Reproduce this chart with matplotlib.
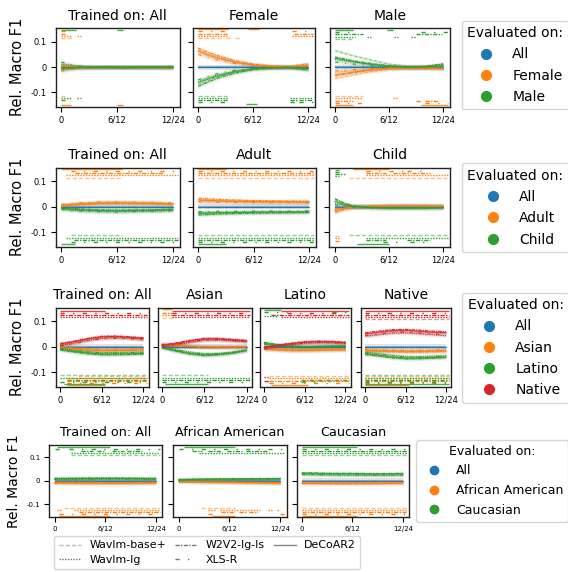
import numpy as np
import matplotlib
matplotlib.use("Agg")
import matplotlib.pyplot as plt
from matplotlib.lines import Line2D

# ---------------- data ----------------
X = [0, 1, 2, 4, 6, 8, 10, 12]
MODELS = ["Wavlm-base+", "Wavlm-lg", "W2V2-lg-ls", "XLS-R", "DeCoAR2"]
XTICKS = [0, 6, 12]
XTICKLABELS = ["0", "6/12", "12/24"]
YTICKS = [-0.1, 0, 0.1]
YTICKLABELS = ["-0.1", "0", "0.1"]
ALL_REL = [0, 0, 0, 0, 0, 0, 0, 0]

gender_groups = ["All", "Female", "Male"]
gender_titles = ["Trained on: All", "Female", "Male"]
age_groups = ["All", "Adult", "Child"]
age_titles = ["Trained on: All", "Adult", "Child"]
eth_groups = ["All", "Asian", "Latino", "Native"]
eth_titles = ["Trained on: All", "Asian", "Latino", "Native"]
race_groups = ["All", "African American", "Caucasian"]
race_titles = ["Trained on: All", "African American", "Caucasian"]

# ---- Row 1: gender ----
gen_all_F = [[0.012, 0.006, 0.002, 0.0, 0.0, 0.0, 0.0, 0.0],
             [-0.010, -0.006, -0.003, 0.0, 0.0, 0.0, -0.001, -0.002],
             [0.008, 0.004, 0.001, 0.0, 0.0, 0.001, 0.0, 0.0],
             [-0.016, -0.008, -0.003, 0.0, 0.0, 0.0, 0.0, 0.001],
             [0.004, 0.002, 0.001, 0.0, 0.0, 0.0, 0.0, 0.0]]
gen_all_M = [[-0.012, -0.006, -0.002, 0.0, 0.0, 0.0, 0.0, 0.0],
             [0.012, 0.007, 0.003, 0.0, 0.0, 0.0, 0.001, 0.003],
             [-0.008, -0.004, -0.001, 0.0, 0.0, -0.001, 0.0, 0.0],
             [0.020, 0.010, 0.004, 0.0, 0.0, 0.0, 0.0, -0.001],
             [-0.004, -0.002, -0.001, 0.0, 0.0, 0.0, 0.0, 0.0]]
gen_fem_F = [[0.070, 0.055, 0.042, 0.022, 0.010, 0.004, 0.001, 0.005],
             [0.060, 0.046, 0.035, 0.018, 0.008, 0.003, 0.002, 0.010],
             [0.075, 0.060, 0.047, 0.026, 0.012, 0.005, 0.003, 0.014],
             [0.050, 0.038, 0.028, 0.014, 0.006, 0.002, 0.000, 0.003],
             [0.064, 0.050, 0.038, 0.020, 0.008, 0.002, 0.001, 0.007]]
gen_fem_M = [[-0.070, -0.055, -0.040, -0.020, -0.008, -0.003, 0.000, -0.005],
             [-0.056, -0.043, -0.032, -0.016, -0.006, -0.002, -0.002, -0.010],
             [-0.076, -0.060, -0.045, -0.024, -0.010, -0.004, -0.003, -0.013],
             [-0.050, -0.037, -0.026, -0.012, -0.005, -0.002, 0.000, -0.003],
             [-0.062, -0.048, -0.036, -0.018, -0.007, -0.002, -0.001, -0.006]]
gen_mal_F = [[-0.045, -0.038, -0.030, -0.018, -0.008, -0.004, -0.003, -0.004],
             [-0.020, -0.017, -0.015, -0.010, -0.004, -0.003, -0.003, -0.006],
             [-0.035, -0.029, -0.022, -0.012, -0.005, -0.003, -0.004, -0.008],
             [-0.015, -0.013, -0.010, -0.006, -0.003, -0.002, -0.002, -0.003],
             [-0.030, -0.025, -0.020, -0.010, -0.004, -0.003, -0.003, -0.005]]
gen_mal_M = [[0.065, 0.055, 0.045, 0.028, 0.012, 0.004, 0.002, 0.006],
             [0.030, 0.025, 0.020, 0.012, 0.005, 0.001, 0.003, 0.011],
             [0.040, 0.033, 0.025, 0.014, 0.005, 0.001, 0.003, 0.013],
             [0.020, 0.016, 0.012, 0.006, 0.002, 0.000, 0.000, 0.004],
             [0.035, 0.029, 0.022, 0.010, 0.003, 0.000, 0.001, 0.007]]

# significance bars: (group, model, side, x_start, x_end)
gen_all_sig = [(2, 4, 1, 0, 1.6), (2, 4, 1, 6, 6.6), (1, 3, 1, 0, 0.4), (1, 2, 1, 0, 0.4),
               (1, 1, 1, 0, 1.0), (1, 1, 1, 1.7, 2.1), (1, 0, 1, 0, 1.1),
               (1, 0, -1, 0, 0.4), (2, 1, -1, 0, 1.0), (2, 1, -1, 1.7, 2.1), (2, 2, -1, 0, 0.4),
               (1, 4, -1, 0, 1.0), (1, 4, -1, 6, 6.6)]
gen_fem_sig = [(1, 4, 1, 0, 3.2), (1, 4, 1, 5.4, 6.6), (1, 3, 1, 0, 3.2), (1, 3, 1, 10.2, 12.5),
               (1, 2, 1, 0, 3.2), (1, 2, 1, 10.5, 12.5), (1, 1, 1, 0, 3.2), (1, 1, 1, 10.2, 12.5),
               (1, 0, 1, 0, 2.5), (1, 0, 1, 3, 3.6), (1, 0, 1, 4, 4.5),
               (2, 0, -1, 0, 3.2), (2, 1, -1, 0, 3.2), (2, 1, -1, 10, 10.8), (2, 1, -1, 11, 12.5),
               (2, 2, -1, 0, 3.2), (2, 2, -1, 10, 10.8), (2, 2, -1, 11, 12.5),
               (2, 3, -1, 0, 3.2), (2, 3, -1, 10, 10.8), (2, 3, -1, 11, 12.5), (2, 4, -1, 5.2, 6.4)]
gen_mal_sig = [(2, 4, 1, 0, 2), (2, 4, 1, 5.8, 6.4), (2, 3, 1, 0, 2), (2, 3, 1, 9.5, 12.5),
               (2, 2, 1, 0, 3.1), (2, 2, 1, 9, 11.9), (2, 1, 1, 0, 2.2), (2, 1, 1, 3.5, 4),
               (2, 1, 1, 6.5, 7), (2, 1, 1, 8.4, 9), (2, 0, 1, 0, 2),
               (1, 0, -1, 0, 3.1), (1, 1, -1, 0, 3.1), (1, 1, -1, 6.4, 7), (1, 2, -1, 0, 2),
               (1, 2, -1, 9, 9.4), (1, 2, -1, 10, 11.5), (1, 3, -1, 0, 3.1), (1, 3, -1, 10, 12.5),
               (1, 4, -1, 0, 2), (1, 4, -1, 9.5, 12.5)]

# ---- Row 2: age ----
age_all_A = [[0.004, 0.008, 0.011, 0.014, 0.015, 0.014, 0.013, 0.010],
             [0.008, 0.012, 0.015, 0.018, 0.019, 0.018, 0.017, 0.014],
             [0.002, 0.006, 0.009, 0.012, 0.013, 0.012, 0.012, 0.009],
             [0.010, 0.014, 0.017, 0.020, 0.020, 0.019, 0.018, 0.016],
             [0.006, 0.009, 0.012, 0.015, 0.016, 0.015, 0.014, 0.012]]
age_all_C = [[-0.004, -0.008, -0.010, -0.013, -0.014, -0.013, -0.012, -0.009],
             [-0.008, -0.012, -0.014, -0.017, -0.018, -0.017, -0.016, -0.013],
             [-0.002, -0.005, -0.008, -0.011, -0.012, -0.011, -0.011, -0.008],
             [-0.010, -0.014, -0.016, -0.019, -0.020, -0.018, -0.017, -0.015],
             [-0.006, -0.009, -0.011, -0.014, -0.015, -0.014, -0.013, -0.011]]
age_adu_A = [[0.030, 0.028, 0.026, 0.024, 0.022, 0.021, 0.021, 0.020],
             [0.024, 0.023, 0.022, 0.021, 0.020, 0.020, 0.019, 0.019],
             [0.034, 0.032, 0.030, 0.027, 0.025, 0.024, 0.023, 0.022],
             [0.020, 0.019, 0.018, 0.017, 0.017, 0.016, 0.016, 0.016],
             [0.027, 0.026, 0.024, 0.022, 0.021, 0.020, 0.020, 0.019]]
age_adu_C = [[-0.028, -0.027, -0.025, -0.023, -0.022, -0.021, -0.021, -0.020],
             [-0.022, -0.021, -0.021, -0.020, -0.019, -0.019, -0.019, -0.018],
             [-0.032, -0.030, -0.028, -0.026, -0.025, -0.024, -0.023, -0.022],
             [-0.018, -0.018, -0.017, -0.017, -0.016, -0.016, -0.016, -0.015],
             [-0.025, -0.024, -0.023, -0.022, -0.021, -0.020, -0.020, -0.019]]
age_chi_A = [[-0.018, -0.008, -0.002, 0.003, 0.005, 0.005, 0.005, 0.004],
             [-0.010, -0.004, 0.000, 0.004, 0.006, 0.006, 0.005, 0.005],
             [-0.022, -0.010, -0.003, 0.002, 0.004, 0.005, 0.004, 0.003],
             [-0.006, -0.002, 0.001, 0.004, 0.006, 0.006, 0.006, 0.004],
             [-0.014, -0.006, -0.001, 0.003, 0.005, 0.005, 0.005, 0.004]]
age_chi_C = [[0.028, 0.014, 0.004, -0.002, -0.004, -0.004, -0.004, -0.003],
             [0.015, 0.007, 0.001, -0.003, -0.005, -0.005, -0.004, -0.004],
             [0.032, 0.016, 0.005, -0.001, -0.003, -0.004, -0.003, -0.002],
             [0.008, 0.003, -0.001, -0.003, -0.005, -0.005, -0.005, -0.003],
             [0.022, 0.010, 0.002, -0.002, -0.004, -0.004, -0.004, -0.003]]

age_all_sig = [(1, 4, 1, 0, 6.5), (1, 3, 1, 1, 12.5), (1, 2, 1, 1.5, 11), (1, 1, 1, 0.5, 12.5),
               (1, 0, 1, 0.5, 6.5),
               (2, 0, -1, 1, 6.5), (2, 1, -1, 0.5, 12.5), (2, 2, -1, 1.4, 12.5), (2, 3, -1, 1, 12.5),
               (2, 4, -1, 0, 1.5)]
age_adu_sig = [(1, 4, 1, 0, 3), (1, 3, 1, 0, 12.5), (1, 2, 1, 0, 12.5), (1, 1, 1, 0, 12.5),
               (1, 0, 1, 0, 12.5),
               (2, 0, -1, 0, 12.5), (2, 1, -1, 0, 12.5), (2, 2, -1, 0, 12.5), (2, 3, -1, 0, 12.5),
               (2, 4, -1, 0, 3)]
age_chi_sig = [(2, 4, 1, 0, 0.5), (2, 3, 1, 0, 0.5), (2, 2, 1, 0, 1.1), (2, 1, 1, 0, 0.5),
               (1, 4, 1, 2, 6), (1, 3, 1, 3.5, 5), (1, 3, 1, 6, 7.5), (1, 3, 1, 8, 9.5),
               (1, 2, 1, 3.5, 5.7), (1, 2, 1, 6.4, 8.3), (1, 2, 1, 8.5, 10.5),
               (1, 1, 1, 3.5, 12.5), (1, 0, 1, 1.6, 12.5),
               (1, 0, -1, 0, 0.4), (1, 1, -1, 0, 0.4), (1, 2, -1, 0, 0.4),
               (2, 0, -1, 1.6, 12.5), (2, 1, -1, 3.5, 12.5), (2, 2, -1, 3.5, 5.7), (2, 2, -1, 8, 10.5),
               (2, 3, -1, 5.3, 7.2), (2, 3, -1, 8.3, 10.5), (2, 4, -1, 2.4, 6)]

# ---- Row 3: ethnicity ----
eth_all_As = [[0.000, -0.003, -0.006, -0.010, -0.012, -0.012, -0.011, -0.010],
              [0.004, 0.000, -0.003, -0.006, -0.008, -0.008, -0.008, -0.007],
              [-0.004, -0.007, -0.009, -0.013, -0.015, -0.015, -0.014, -0.012],
              [0.002, -0.001, -0.004, -0.008, -0.010, -0.010, -0.009, -0.008],
              [-0.002, -0.005, -0.008, -0.011, -0.013, -0.013, -0.012, -0.011]]
eth_all_La = [[-0.008, -0.012, -0.016, -0.022, -0.026, -0.026, -0.025, -0.024],
              [-0.004, -0.008, -0.012, -0.018, -0.022, -0.022, -0.021, -0.020],
              [-0.012, -0.016, -0.020, -0.027, -0.031, -0.031, -0.030, -0.028],
              [-0.006, -0.010, -0.014, -0.020, -0.024, -0.024, -0.023, -0.022],
              [-0.010, -0.014, -0.018, -0.024, -0.028, -0.028, -0.027, -0.025]]
eth_all_Na = [[0.010, 0.014, 0.019, 0.030, 0.038, 0.040, 0.037, 0.032],
              [0.006, 0.010, 0.015, 0.026, 0.034, 0.036, 0.034, 0.030],
              [0.014, 0.018, 0.023, 0.034, 0.042, 0.043, 0.040, 0.036],
              [0.004, 0.008, 0.013, 0.024, 0.032, 0.034, 0.032, 0.028],
              [0.012, 0.016, 0.021, 0.032, 0.040, 0.041, 0.038, 0.034]]
eth_asi_As = [[0.010, 0.008, 0.006, 0.003, 0.001, 0.000, 0.000, 0.000],
              [0.006, 0.005, 0.004, 0.002, 0.000, -0.001, -0.001, 0.000],
              [0.012, 0.010, 0.008, 0.004, 0.002, 0.001, 0.001, 0.002],
              [0.004, 0.003, 0.002, 0.000, -0.002, -0.002, -0.002, -0.001],
              [0.008, 0.006, 0.005, 0.002, 0.000, 0.000, 0.000, 0.001]]
eth_asi_La = [[-0.002, -0.008, -0.014, -0.025, -0.030, -0.028, -0.022, -0.012],
              [0.002, -0.004, -0.010, -0.020, -0.026, -0.025, -0.020, -0.010],
              [-0.004, -0.010, -0.017, -0.028, -0.034, -0.031, -0.025, -0.015],
              [0.000, -0.006, -0.012, -0.022, -0.028, -0.026, -0.021, -0.011],
              [-0.003, -0.009, -0.015, -0.026, -0.032, -0.029, -0.023, -0.013]]
eth_asi_Na = [[0.004, 0.008, 0.012, 0.022, 0.030, 0.030, 0.026, 0.022],
              [0.000, 0.004, 0.008, 0.018, 0.026, 0.027, 0.024, 0.020],
              [0.008, 0.012, 0.016, 0.026, 0.034, 0.034, 0.030, 0.026],
              [0.002, 0.006, 0.010, 0.020, 0.028, 0.028, 0.025, 0.021],
              [0.006, 0.010, 0.014, 0.024, 0.032, 0.032, 0.028, 0.024]]
eth_lat_As = [[-0.006, -0.008, -0.010, -0.012, -0.012, -0.011, -0.010, -0.010],
              [-0.003, -0.005, -0.007, -0.009, -0.009, -0.008, -0.008, -0.007],
              [-0.009, -0.011, -0.013, -0.015, -0.015, -0.014, -0.013, -0.012],
              [-0.004, -0.006, -0.008, -0.010, -0.010, -0.009, -0.009, -0.008],
              [-0.007, -0.009, -0.011, -0.013, -0.013, -0.012, -0.011, -0.011]]
eth_lat_La = [[0.016, 0.012, 0.008, 0.002, 0.000, 0.001, 0.002, 0.003],
              [0.010, 0.008, 0.005, 0.000, -0.002, -0.001, 0.000, 0.001],
              [0.018, 0.014, 0.010, 0.004, 0.002, 0.003, 0.004, 0.005],
              [0.012, 0.009, 0.006, 0.001, -0.001, 0.000, 0.001, 0.002],
              [0.014, 0.011, 0.007, 0.002, 0.000, 0.002, 0.003, 0.004]]
eth_lat_Na = [[-0.004, 0.000, 0.004, 0.012, 0.018, 0.020, 0.019, 0.016],
              [-0.008, -0.004, 0.000, 0.008, 0.014, 0.016, 0.016, 0.013],
              [0.000, 0.004, 0.008, 0.015, 0.021, 0.023, 0.022, 0.019],
              [-0.006, -0.002, 0.002, 0.010, 0.016, 0.018, 0.017, 0.014],
              [-0.002, 0.002, 0.006, 0.013, 0.019, 0.021, 0.020, 0.017]]
eth_nat_As = [[-0.012, -0.013, -0.014, -0.015, -0.016, -0.016, -0.015, -0.014],
              [-0.008, -0.009, -0.010, -0.011, -0.012, -0.012, -0.011, -0.010],
              [-0.016, -0.017, -0.018, -0.019, -0.020, -0.020, -0.019, -0.018],
              [-0.010, -0.011, -0.012, -0.013, -0.014, -0.014, -0.013, -0.012],
              [-0.014, -0.015, -0.016, -0.017, -0.018, -0.018, -0.017, -0.016]]
eth_nat_La = [[-0.025, -0.028, -0.031, -0.038, -0.042, -0.042, -0.040, -0.038],
              [-0.020, -0.023, -0.026, -0.033, -0.037, -0.038, -0.036, -0.034],
              [-0.030, -0.033, -0.036, -0.043, -0.047, -0.046, -0.044, -0.042],
              [-0.022, -0.025, -0.028, -0.035, -0.039, -0.040, -0.038, -0.036],
              [-0.027, -0.030, -0.033, -0.040, -0.044, -0.044, -0.042, -0.040]]
eth_nat_Na = [[0.050, 0.053, 0.056, 0.062, 0.063, 0.060, 0.056, 0.054],
              [0.042, 0.045, 0.048, 0.054, 0.055, 0.052, 0.048, 0.044],
              [0.056, 0.059, 0.062, 0.068, 0.069, 0.066, 0.062, 0.060],
              [0.045, 0.048, 0.051, 0.057, 0.058, 0.055, 0.051, 0.048],
              [0.052, 0.055, 0.058, 0.064, 0.065, 0.062, 0.058, 0.056]]

eth_all_sig = [(3, 4, 1, 0, 6.5), (3, 3, 1, 0, 12.5), (3, 2, 1, 0, 12.5), (3, 1, 1, 0, 12.5),
               (1, 0, -1, 2.5, 12.5), (2, 0, -1, 0, 12.5), (2, 1, -1, 0, 12.5), (1, 1, -1, 1, 12.5),
               (2, 2, -1, 1, 12.5), (1, 2, -1, 1, 12.5), (2, 3, -1, 0, 12.5), (1, 3, -1, 1, 12.5),
               (1, 4, -1, 1, 6.5), (2, 4, -1, 0.5, 6.5)]
eth_asi_sig = [(1, 4, 1, 0, 1.4), (1, 2, 1, 0, 1.4), (1, 1, 1, 0, 1.4), (1, 0, 1, 0, 1.4),
               (3, 4, 1, 1.4, 12.5), (3, 3, 1, 1.4, 12.5), (3, 2, 1, 1.4, 12.5), (3, 1, 1, 1.4, 12.5),
               (2, 0, -1, 0, 6.5), (2, 1, -1, 0, 12.5), (2, 2, -1, 0, 12.5), (2, 3, -1, 0, 12.5),
               (2, 4, -1, 0.5, 6.5)]
eth_lat_sig = [(2, 4, 1, 0, 2.5), (3, 4, 1, 2.5, 12.5), (2, 3, 1, 0, 3.4), (3, 3, 1, 3.4, 11.3),
               (2, 3, 1, 10, 12.5), (3, 2, 1, 1, 12.5), (2, 1, 1, 0, 2), (3, 1, 1, 2.5, 12.5),
               (1, 0, -1, 0.7, 12.5), (1, 1, -1, 0.7, 12.5), (3, 1, -1, 0, 0.7), (2, 2, -1, 5.4, 12.5),
               (1, 2, -1, 0.7, 12.5), (2, 3, -1, 5.4, 8), (1, 3, -1, 0.7, 12.5), (3, 3, -1, 0, 0.7),
               (1, 4, -1, 1, 6.5)]
eth_nat_sig = [(3, 4, 1, 0, 12.5), (3, 3, 1, 0, 12.5), (3, 2, 1, 0, 12.5), (3, 1, 1, 0, 12.5),
               (3, 0, 1, 0, 12.5),
               (1, 0, -1, 0, 12.5), (1, 1, -1, 0, 12.5), (1, 2, -1, 0, 12.5), (1, 3, -1, 0, 12.5),
               (1, 4, -1, 0, 6.5),
               (2, 0, -1, 0, 12.5), (2, 1, -1, 0, 12.5), (2, 2, -1, 0, 12.5), (2, 3, -1, 0, 12.5),
               (2, 4, -1, 0, 12.5)]

# ---- Row 4: race ----
race_all_AA = [[-0.008, -0.008, -0.008, -0.009, -0.009, -0.009, -0.009, -0.008],
               [-0.005, -0.005, -0.006, -0.006, -0.007, -0.007, -0.006, -0.006],
               [-0.011, -0.011, -0.011, -0.012, -0.012, -0.012, -0.011, -0.011],
               [-0.006, -0.007, -0.007, -0.008, -0.008, -0.008, -0.008, -0.007],
               [-0.009, -0.009, -0.010, -0.010, -0.010, -0.010, -0.010, -0.009]]
race_all_Ca = [[0.008, 0.008, 0.008, 0.009, 0.009, 0.009, 0.009, 0.008],
               [0.005, 0.005, 0.006, 0.006, 0.007, 0.007, 0.006, 0.006],
               [0.011, 0.011, 0.011, 0.012, 0.012, 0.012, 0.011, 0.011],
               [0.006, 0.007, 0.007, 0.008, 0.008, 0.008, 0.008, 0.007],
               [0.009, 0.009, 0.010, 0.010, 0.010, 0.010, 0.010, 0.009]]
race_afr_AA = [[-0.002, -0.003, -0.004, -0.005, -0.006, -0.007, -0.008, -0.009],
               [0.000, -0.001, -0.002, -0.003, -0.004, -0.005, -0.006, -0.007],
               [-0.003, -0.004, -0.005, -0.007, -0.008, -0.009, -0.010, -0.011],
               [-0.001, -0.002, -0.003, -0.004, -0.005, -0.006, -0.007, -0.008],
               [-0.002, -0.003, -0.004, -0.006, -0.007, -0.008, -0.009, -0.010]]
race_afr_Ca = [[0.003, 0.004, 0.005, 0.006, 0.006, 0.007, 0.007, 0.008],
               [0.001, 0.002, 0.003, 0.004, 0.004, 0.005, 0.005, 0.006],
               [0.005, 0.006, 0.007, 0.008, 0.008, 0.009, 0.009, 0.010],
               [0.002, 0.003, 0.004, 0.005, 0.005, 0.006, 0.006, 0.007],
               [0.004, 0.005, 0.006, 0.007, 0.007, 0.008, 0.008, 0.009]]
race_cau_AA = [[-0.009, -0.009, -0.009, -0.010, -0.010, -0.010, -0.009, -0.009],
               [-0.006, -0.006, -0.006, -0.007, -0.007, -0.007, -0.006, -0.006],
               [-0.012, -0.012, -0.012, -0.013, -0.013, -0.013, -0.012, -0.012],
               [-0.007, -0.007, -0.008, -0.008, -0.008, -0.008, -0.008, -0.007],
               [-0.010, -0.010, -0.011, -0.011, -0.011, -0.011, -0.010, -0.010]]
race_cau_Ca = [[0.030, 0.030, 0.029, 0.028, 0.028, 0.027, 0.027, 0.028],
               [0.026, 0.026, 0.025, 0.024, 0.024, 0.023, 0.023, 0.024],
               [0.034, 0.034, 0.033, 0.032, 0.032, 0.031, 0.031, 0.032],
               [0.027, 0.027, 0.026, 0.025, 0.025, 0.024, 0.024, 0.025],
               [0.032, 0.032, 0.031, 0.030, 0.030, 0.029, 0.029, 0.030]]

race_all_sig = [(2, 4, 1, 0.3, 6.6), (2, 3, 1, 0, 0.7), (2, 3, 1, 1.7, 12.5), (2, 2, 1, 3.1, 4.5),
                (2, 2, 1, 5, 6), (2, 2, 1, 6.8, 8.2), (2, 2, 1, 8.6, 10.4), (2, 1, 1, 1.9, 12.5),
                (2, 0, 1, 2, 12.5),
                (1, 0, -1, 1.1, 12.5), (1, 1, -1, 0.3, 0.9), (1, 1, -1, 2.3, 12.5),
                (1, 2, -1, 2.9, 12.5), (1, 3, -1, 0.5, 12.5), (1, 4, -1, 0.5, 6.6)]
race_afr_sig = [(2, 4, 1, 0.6, 6.7), (2, 3, 1, 0, 12.5), (2, 2, 1, 1.6, 2.8), (2, 2, 1, 3.5, 5),
                (2, 2, 1, 5.7, 7.5), (2, 2, 1, 7.9, 10.4), (2, 1, 1, 2.4, 12.5),
                (1, 0, -1, 2.6, 6.7), (1, 1, -1, 3.5, 4.3), (1, 1, -1, 4.9, 9.6), (1, 1, -1, 10.5, 11),
                (1, 1, -1, 11.6, 12), (1, 2, -1, 5, 6.7), (1, 2, -1, 7.1, 7.9), (1, 2, -1, 8.3, 9.4),
                (1, 3, -1, 3.5, 4.3), (1, 3, -1, 12, 12.5), (1, 4, -1, 3.9, 6.7)]
race_cau_sig = [(2, 4, 1, 0, 6.5), (2, 3, 1, 0, 12.5), (2, 2, 1, 0, 12.5), (2, 1, 1, 0, 12.5),
                (2, 0, 1, 0, 12.5),
                (1, 0, -1, 0, 12.5), (1, 1, -1, 0, 12.5), (1, 2, -1, 0, 12.5), (1, 3, -1, 0, 12.5),
                (1, 4, -1, 0, 6.5)]

# ---------------- styling ----------------
COLORS = ["#1f77b4", "#ff7f0e", "#2ca02c", "#d62728"]
MODEL_LS = [(0, (3, 1.5)), (0, (1, 1)), (0, (3, 1, 1, 1)), (0, (3, 6, 1, 6)), "-"]
MODEL_ALPHA = [0.5, 1.0, 1.0, 1.0, 0.85]

W, H = 568, 572
fig = plt.figure(figsize=(W / 100, H / 100), dpi=100)


def px_axes(x0, x1, y0, y1):
    return fig.add_axes([x0 / W, 1 - y1 / H, (x1 - x0) / W, (y1 - y0) / H])


def draw_panel(ax, title, curves, sig, first, fs_title, fs_tick, fs_ylab):
    xa = np.array(X, dtype=float)
    for g, mc in curves:
        col = COLORS[g]
        for ys in mc:
            ys = np.asarray(ys, dtype=float)
            ax.fill_between(xa, ys - 0.010, ys + 0.010, color="0.55", alpha=0.05, lw=0, zorder=1)
            ax.fill_between(xa, ys - 0.005, ys + 0.005, color=col, alpha=0.10, lw=0, zorder=1)
        for m, ys in enumerate(mc):
            ax.plot(xa, ys, color=col, ls=MODEL_LS[m], lw=0.8, alpha=MODEL_ALPHA[m], zorder=3)
    for g, m, side, xs, xe in sig:
        y = side * (0.149 - 0.0085 * (4 - m) - 0.003 * (g - 1))
        ax.plot([xs, xe], [y, y], color=COLORS[g], ls=MODEL_LS[m], lw=1.0,
                alpha=MODEL_ALPHA[m], solid_capstyle="butt", zorder=2)
    ax.set_xlim(-0.62, 12.75)
    ax.set_ylim(-0.156, 0.154)
    ax.set_xticks(XTICKS)
    ax.set_xticklabels(XTICKLABELS)
    ax.set_yticks(YTICKS)
    if first:
        ax.set_yticklabels(YTICKLABELS)
        ax.set_ylabel("Rel. Macro F1", fontsize=fs_ylab)
    else:
        ax.set_yticklabels([])
    ax.tick_params(labelsize=fs_tick, length=3.5, width=0.8, pad=3)
    ax.set_title(title, fontsize=fs_title)
    for s in ax.spines.values():
        s.set_linewidth(1.0)
        s.set_color("#222222")


def group_legend(labels, x, y, fs, ms, hl, htp):
    handles = [Line2D([], [], marker="o", ls="", color=COLORS[i], markersize=ms)
               for i in range(len(labels))]
    fig.legend(handles, labels, title="Evaluated on:", loc="upper left",
               bbox_to_anchor=(x / W, 1 - y / H), bbox_transform=fig.transFigure,
               borderaxespad=0, fontsize=fs, title_fontsize=fs, labelspacing=0.52,
               handlelength=hl, handletextpad=htp)


rows = [
    dict(titles=gender_titles, groups=gender_groups, y=(28, 106.7),
         xs=[(55.5, 180), (192.5, 315), (329.5, 450)],
         panels=[([(1, gen_all_F), (2, gen_all_M)], gen_all_sig),
                 ([(1, gen_fem_F), (2, gen_fem_M)], gen_fem_sig),
                 ([(1, gen_mal_F), (2, gen_mal_M)], gen_mal_sig)],
         fs=(10, 6, 10.5), leg=(461.7, 20.7, 10, 7, 2.6, 0.6)),
    dict(titles=age_titles, groups=age_groups, y=(167.7, 246.7),
         xs=[(55.7, 180), (192.7, 316), (329.3, 450)],
         panels=[([(1, age_all_A), (2, age_all_C)], age_all_sig),
                 ([(1, age_adu_A), (2, age_adu_C)], age_adu_sig),
                 ([(1, age_chi_A), (2, age_chi_C)], age_chi_sig)],
         fs=(10, 6, 10.5), leg=(461.7, 163.3, 10, 7, 2.6, 0.6)),
    dict(titles=eth_titles, groups=eth_groups, y=(307.7, 386.7),
         xs=[(56, 148.5), (157.5, 252), (260, 350.5), (361, 451)],
         panels=[([(1, eth_all_As), (2, eth_all_La), (3, eth_all_Na)], eth_all_sig),
                 ([(1, eth_asi_As), (2, eth_asi_La), (3, eth_asi_Na)], eth_asi_sig),
                 ([(1, eth_lat_As), (2, eth_lat_La), (3, eth_lat_Na)], eth_lat_sig),
                 ([(1, eth_nat_As), (2, eth_nat_La), (3, eth_nat_Na)], eth_nat_sig)],
         fs=(10, 6, 10.5), leg=(462, 292.7, 10, 7, 2.6, 0.6)),
    dict(titles=race_titles, groups=race_groups, y=(444.7, 517.3),
         xs=[(49.3, 162.3), (173.3, 286.7), (296.7, 409.3)],
         panels=[([(1, race_all_AA), (2, race_all_Ca)], race_all_sig),
                 ([(1, race_afr_AA), (2, race_afr_Ca)], race_afr_sig),
                 ([(1, race_cau_AA), (2, race_cau_Ca)], race_cau_sig)],
         fs=(9.2, 5, 10), leg=(416, 440, 9, 6, 2.0, 0.8)),
]

for row in rows:
    y0, y1 = row["y"]
    for i, ((x0, x1), (curves, sig)) in enumerate(zip(row["xs"], row["panels"])):
        ax = px_axes(x0, x1, y0, y1)
        all_curves = [(0, [ALL_REL] * len(MODELS))] + curves
        draw_panel(ax, row["titles"][i], all_curves, sig, i == 0, *row["fs"])
    lx, ly, lfs, lms, lhl, lhtp = row["leg"]
    group_legend(row["groups"], lx, ly, lfs, lms, lhl, lhtp)

# model legend
mhandles = [Line2D([], [], color="0.45", ls=MODEL_LS[m], lw=1.0, alpha=MODEL_ALPHA[m])
            for m in range(len(MODELS))]
fig.legend(mhandles, MODELS, loc="upper left", ncol=3,
           bbox_to_anchor=(54.3 / W, 1 - 536 / H), bbox_transform=fig.transFigure,
           borderaxespad=0, fontsize=7.9, columnspacing=0.8, labelspacing=0.4)

fig.savefig("out.png", dpi=100)
